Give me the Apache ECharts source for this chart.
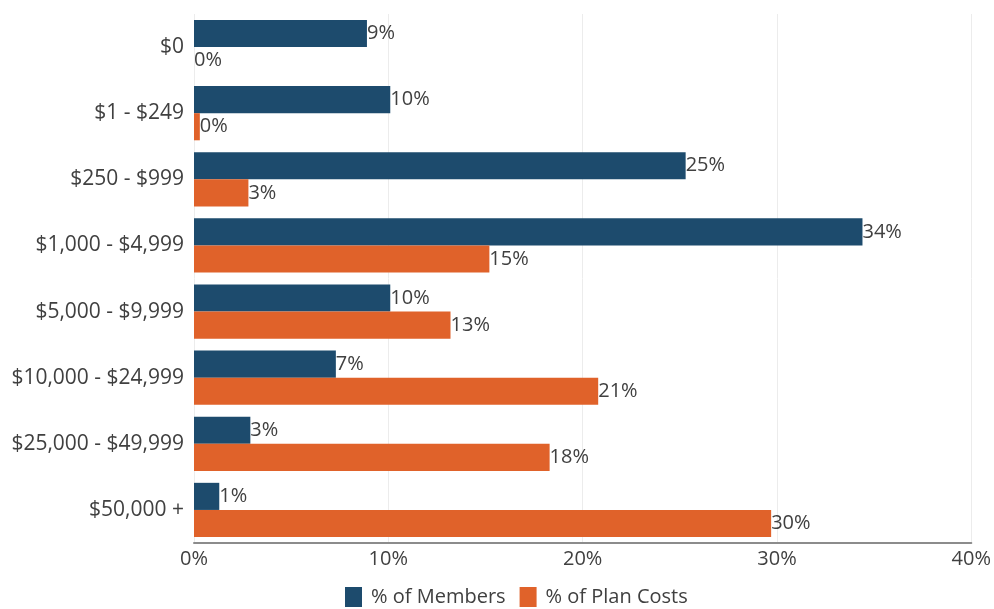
<!DOCTYPE html>
<html><head><meta charset="utf-8">
<script src="https://cdn.jsdelivr.net/npm/echarts@6/dist/echarts.min.js"></script>
<style>html,body{margin:0;padding:0;background:#fff}#c{width:994px;height:609px}</style>
</head><body><div id="c"></div>
<script>
const categories = ["$0","$1 - $249","$250 - $999","$1,000 - $4,999","$5,000 - $9,999","$10,000 - $24,999","$25,000 - $49,999","$50,000 +"];
const members = [8.9, 10.1, 25.3, 34.4, 10.1, 7.3, 2.9, 1.3];
const planCosts = [0.0, 0.3, 2.8, 15.2, 13.2, 20.8, 18.3, 29.7];
const xTicks = [0, 10, 20, 30, 40];
const seriesNames = ["% of Members", "% of Plan Costs"];

const font = "'Open Sans', sans-serif";
const chart = echarts.init(document.getElementById('c'));
const lbl = {
  show: true, position: 'right', distance: 0,
  color: '#404040', fontSize: 20, fontFamily: font,
  formatter: p => Math.round(p.value) + '%'
};
chart.setOption({
  animation: false,
  grid: {left: 194, right: 20, top: 14, bottom: 66},
  xAxis: {
    type: 'value', min: xTicks[0], max: xTicks[xTicks.length-1], interval: 10,
    axisLine: {show: true, lineStyle: {color: '#8c8c8c', width: 2}},
    axisTick: {show: false},
    splitLine: {lineStyle: {color: '#ececec'}},
    axisLabel: {color: '#404040', fontSize: 20, fontFamily: font, formatter: v => v + '%', margin: 6}
  },
  yAxis: {
    type: 'category', data: categories, inverse: true,
    axisLine: {show: false}, axisTick: {show: false},
    axisLabel: {color: '#404040', fontSize: 21, fontFamily: font, margin: 10}
  },
  legend: {
    bottom: -3, left: 340, itemWidth: 17, itemHeight: 20, itemGap: 14,
    icon: 'rect',
    textStyle: {color: '#404040', fontSize: 20, fontFamily: font, padding: [0, 0, 0, 4]},
    data: seriesNames
  },
  series: [
    {name: seriesNames[0], type: 'bar', data: members, barGap: '0%', barCategoryGap: '18%',
     itemStyle: {color: '#1d4b6d'}, label: lbl},
    {name: seriesNames[1], type: 'bar', data: planCosts,
     itemStyle: {color: '#e0622a'}, label: lbl}
  ]
});
</script></body></html>
